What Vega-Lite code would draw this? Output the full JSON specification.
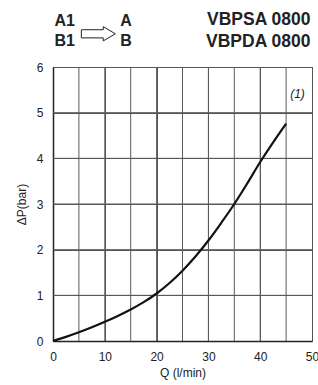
{
  "$schema": "https://vega.github.io/schema/vega-lite/v6.json",
  "width": 259,
  "height": 274,
  "autosize": "none",
  "padding": {"left": 53, "top": 67, "right": 6, "bottom": 44},
  "background": "white",
  "config": {
    "font": "Liberation Sans",
    "view": {"stroke": "#333", "strokeWidth": 1},
    "axis": {
      "labelFont": "Liberation Sans",
      "titleFont": "Liberation Sans",
      "labelFontSize": 12,
      "titleFontSize": 12,
      "titleFontWeight": "normal",
      "labelColor": "#222",
      "titleColor": "#222",
      "grid": true,
      "gridColor": "#555",
      "gridOpacity": 1,
      "gridWidth": 1,
      "domainColor": "#222",
      "domainWidth": 1.5,
      "tickSize": 0,
      "labelPadding": 10
    }
  },
  "layer": [
    {
      "data": {"values": [{"Q": 5}, {"Q": 10}, {"Q": 15}, {"Q": 20}, {"Q": 25}, {"Q": 30}, {"Q": 35}, {"Q": 40}, {"Q": 45}]},
      "mark": {"type": "rule", "color": "#5a5a5a", "strokeWidth": 1},
      "encoding": {
        "x": {"field": "Q", "type": "quantitative", "title": "Q (l/min)", "scale": {"domain": [0, 50], "nice": false}}
      }
    },
    {
      "data": {"values": [{"dP": 1}, {"dP": 2}, {"dP": 3}, {"dP": 4}, {"dP": 5}]},
      "mark": {"type": "rule", "color": "#5a5a5a", "strokeWidth": 1},
      "encoding": {
        "y": {"field": "dP", "type": "quantitative", "title": "ΔP(bar)", "scale": {"domain": [0, 6], "nice": false}}
      }
    },
    {
      "data": {"values": [{}]},
      "mark": {"type": "text", "text": "A1", "align": "left", "baseline": "middle", "fontSize": 16, "fontWeight": "bold", "color": "#222"},
      "encoding": {"x": {"datum": 0.3, "type": "quantitative"}, "y": {"datum": 7.0, "type": "quantitative"}}
    },
    {
      "data": {"values": [{}]},
      "mark": {"type": "text", "text": "B1", "align": "left", "baseline": "middle", "fontSize": 16, "fontWeight": "bold", "color": "#222"},
      "encoding": {"x": {"datum": 0.3, "type": "quantitative"}, "y": {"datum": 6.56, "type": "quantitative"}}
    },
    {
      "data": {"values": [{}]},
      "mark": {"type": "text", "text": "A", "align": "left", "baseline": "middle", "fontSize": 16, "fontWeight": "bold", "color": "#222"},
      "encoding": {"x": {"datum": 13.0, "type": "quantitative"}, "y": {"datum": 7.0, "type": "quantitative"}}
    },
    {
      "data": {"values": [{}]},
      "mark": {"type": "text", "text": "B", "align": "left", "baseline": "middle", "fontSize": 16, "fontWeight": "bold", "color": "#222"},
      "encoding": {"x": {"datum": 13.0, "type": "quantitative"}, "y": {"datum": 6.56, "type": "quantitative"}}
    },
    {
      "data": {"values": [{}]},
      "mark": {"type": "text", "text": "VBPSA 0800", "align": "right", "baseline": "middle", "fontSize": 17.5, "fontWeight": "bold", "color": "#222"},
      "encoding": {"x": {"datum": 49.7, "type": "quantitative"}, "y": {"datum": 7.03, "type": "quantitative"}}
    },
    {
      "data": {"values": [{}]},
      "mark": {"type": "text", "text": "VBPDA 0800", "align": "right", "baseline": "middle", "fontSize": 17.5, "fontWeight": "bold", "color": "#222"},
      "encoding": {"x": {"datum": 49.7, "type": "quantitative"}, "y": {"datum": 6.55, "type": "quantitative"}}
    },
    {
      "data": {"values": [{}]},
      "mark": {"type": "text", "text": "(1)", "align": "center", "baseline": "middle", "fontSize": 12, "fontStyle": "italic", "color": "#222"},
      "encoding": {"x": {"datum": 47.2, "type": "quantitative"}, "y": {"datum": 5.41, "type": "quantitative"}}
    },
    {
      "data": {"values": [{}]},
      "mark": {
        "type": "point",
        "shape": "M -1 -0.24 L 0.29 -0.24 L 0.29 -0.42 L 1 0 L 0.29 0.42 L 0.29 0.24 L -1 0.24 Z",
        "size": 1156,
        "filled": false,
        "stroke": "#222",
        "strokeWidth": 1,
        "opacity": 1
      },
      "encoding": {"x": {"datum": 8.75, "type": "quantitative"}, "y": {"datum": 6.727, "type": "quantitative"}}
    },
    {
      "data": {
        "values": [
          {"Q": 0, "dP": 0},
          {"Q": 2.5, "dP": 0.09},
          {"Q": 5, "dP": 0.19},
          {"Q": 7.5, "dP": 0.3},
          {"Q": 10, "dP": 0.42},
          {"Q": 12.5, "dP": 0.55},
          {"Q": 15, "dP": 0.69},
          {"Q": 17.5, "dP": 0.85},
          {"Q": 20, "dP": 1.04},
          {"Q": 22.5, "dP": 1.27},
          {"Q": 25, "dP": 1.54},
          {"Q": 27.5, "dP": 1.85},
          {"Q": 30, "dP": 2.2},
          {"Q": 32.5, "dP": 2.59},
          {"Q": 35, "dP": 3.0},
          {"Q": 37.5, "dP": 3.45},
          {"Q": 40, "dP": 3.92},
          {"Q": 42.5, "dP": 4.35},
          {"Q": 45, "dP": 4.76}
        ]
      },
      "mark": {"type": "line", "color": "#111", "strokeWidth": 2.2, "interpolate": "monotone"},
      "encoding": {
        "x": {
          "field": "Q",
          "type": "quantitative",
          "title": "Q (l/min)",
          "scale": {"domain": [0, 50], "nice": false},
          "axis": {
            "grid": true,
            "values": [0, 5, 10, 15, 20, 25, 30, 35, 40, 45, 50],
            "labelExpr": "datum.value % 10 === 0 ? datum.label : ''",
            "titlePadding": 5,
            "labelFlush": false,
            "labelOverlap": false
          }
        },
        "y": {
          "field": "dP",
          "type": "quantitative",
          "title": "ΔP(bar)",
          "scale": {"domain": [0, 6], "nice": false},
          "axis": {
            "grid": true,
            "values": [0, 1, 2, 3, 4, 5, 6],
            "titlePadding": 8,
            "labelFlush": false,
            "labelOverlap": false
          }
        }
      }
    }
  ]
}
